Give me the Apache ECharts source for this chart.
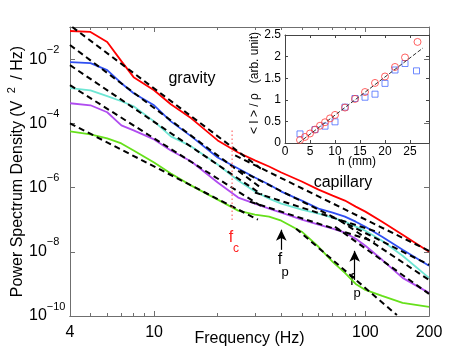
<!DOCTYPE html>
<html>
<head>
<meta charset="utf-8">
<script src="https://cdn.jsdelivr.net/npm/echarts@6/dist/echarts.min.js"></script>
<style>
  html, body { margin: 0; padding: 0; background: #fff; }
  #chart { width: 474px; height: 357px; }
</style>
</head>
<body>
<div id="chart"></div>
<script>
// frequency grid (Hz) shared by the spectra
const freq = [4, 5, 6, 7, 8, 10, 12, 15, 20, 25, 30, 35, 40, 50, 60, 70, 80, 90, 100, 120, 150, 200]

// power spectrum density (V^2/Hz), one curve per depth
const psdRed = [7.5e-2, 7.0e-2, 3.4e-2, 8.65e-3, 2.74e-3, 1.07e-3, 3.93e-4, 1.43e-4, 2.94e-5, 1.24e-5, 7.0e-6, 4.53e-6, 2.94e-6, 1.54e-6, 8.65e-7, 5.62e-7, 3.93e-7, 2.55e-7, 1.78e-7, 8.65e-8, 3.4e-8, 1.0e-8]
const psdBlue = [8.06e-3, 7.5e-3, 4.53e-3, 1.78e-3, 8.65e-4, 3.65e-4, 1.15e-4, 3.93e-5, 8.65e-6, 3.93e-6, 2.05e-6, 1.24e-6, 7.5e-7, 3.93e-7, 2.21e-7, 1.66e-7, 1.24e-7, 8.65e-8, 6.04e-8, 2.94e-8, 1.15e-8, 3.65e-9]
const psdCyan = [1.24e-3, 1.07e-3, 7.0e-4, 4.87e-4, 3.4e-4, 1.15e-4, 3.93e-5, 1.91e-5, 5.24e-6, 1.66e-6, 7.5e-7, 4.53e-7, 3.16e-7, 2.05e-7, 1.54e-7, 1.15e-7, 8.65e-8, 6.04e-8, 4.53e-8, 2.21e-8, 7.5e-9, 1.54e-9]
const psdPurple = [4.22e-4, 3.65e-4, 2.21e-4, 8.65e-5, 6.04e-5, 3.16e-5, 1.43e-5, 6.49e-6, 1.43e-6, 4.87e-7, 3.16e-7, 2.21e-7, 1.66e-7, 1.0e-7, 7.0e-8, 5.24e-8, 3.93e-8, 2.55e-8, 1.54e-8, 5.62e-9, 1.54e-9, 5.24e-10]
const psdGreen = [5.62e-5, 4.53e-5, 3.4e-5, 2.37e-5, 1.43e-5, 6.04e-6, 2.74e-6, 1.15e-6, 4.22e-7, 1.91e-7, 1.43e-7, 1.24e-7, 9.3e-8, 4.22e-8, 1.43e-8, 4.87e-9, 2.21e-9, 1.0e-9, 6.49e-10, 4.22e-10, 2.55e-10, 1.91e-10]

// power-law fits, each one a [f, P] start and end
const fitGravity = [
  [[4.1, 1.0e-1], [32, 3.9e-6]],
  [[4, 2.74e-2], [32.4, 9.3e-7]],
  [[4, 6.49e-3], [32.4, 6.04e-7]],
  [[4, 1.54e-3], [32.4, 2.55e-7]],
  [[4, 1.0e-4], [31, 1.0e-7]]
]
const fitCapillary = [
  [[24.2, 1.0e-5], [200, 1.07e-8]],
  [[25.5, 3.4e-6], [200, 3.93e-9]],
  [[30, 7.0e-7], [117, 3.93e-8]],
  [[75.8, 9.3e-8], [200, 1.33e-9]],
  [[28.4, 3.65e-7], [111, 2.05e-8]],
  [[71.8, 6.04e-8], [200, 4.87e-10]],
  [[47, 5.24e-8], [141, 1.07e-10]]
]

// crossover frequency and peak arrows
const fcFreq = 23.4
const fcSpan = [6.0e-5, 8.1e-8]
const fpArrows = [
  { f: 40, from: 1.15e-8, to: 4.87e-8 },
  { f: 89, from: 1.33e-9, to: 1.07e-8 }
]

// axis ticks
const xLabels = [4, 10, 100, 200]
const xMajor = [10, 100]
const xMinor = [5, 6, 7, 8, 9, 20, 30, 40, 50, 60, 70, 80, 90]
const yTicks = [1e-10, 1e-8, 1e-6, 1e-4, 1e-2]

// inset: mean intensity vs depth
const hRed = [3, 4, 5, 6, 7, 8, 9, 10, 12, 14, 16, 18, 20, 22, 24, 26.5]
const iRed = [0.07, 0.14, 0.22, 0.31, 0.40, 0.48, 0.57, 0.65, 0.82, 1.02, 1.18, 1.39, 1.54, 1.76, 1.98, 2.34]
const hBlue = [3, 6, 8, 10, 12, 14, 16, 18, 20, 22, 24, 26.3]
const iBlue = [0.21, 0.31, 0.39, 0.49, 0.83, 1.03, 1.06, 1.13, 1.38, 1.69, 1.84, 1.67]
const insetFit = [[2.7, 0], [27.6, 2.2]]

const FONT = '"Liberation Sans", Arial, Helvetica, sans-serif'
const axisGray = '#6f6f6f'

const chart = echarts.init(document.getElementById('chart'))

const logX = (position, ticks, len, withLabels) => ({
  type: 'log',
  logBase: 10,
  gridIndex: 0,
  position,
  min: 4,
  max: 200,
  axisLine: { show: true, lineStyle: { color: axisGray, width: 1 } },
  axisTick: { show: true, inside: true, length: len, customValues: ticks, lineStyle: { color: axisGray } },
  axisLabel: withLabels
    ? { customValues: xLabels, margin: 9, fontSize: 16, fontFamily: FONT, color: '#000' }
    : { show: false },
  splitLine: { show: false }
})

const logY = (position, withLabels) => ({
  type: 'log',
  logBase: 10,
  gridIndex: 0,
  position,
  min: 1e-10,
  max: 1e-1,
  axisLine: { show: true, lineStyle: { color: axisGray, width: 1 } },
  axisTick: { show: true, inside: true, length: 5, customValues: yTicks, lineStyle: { color: axisGray } },
  axisLabel: withLabels
    ? {
        customValues: yTicks,
        align: 'left',
        margin: 41,
        formatter: v => '{b|10}{s|\u2212' + (-Math.round(Math.log10(v))) + '}',
        rich: {
          b: { fontSize: 16, fontFamily: FONT, color: '#000', lineHeight: 30, verticalAlign: 'middle' },
          s: { fontSize: 11, fontFamily: FONT, color: '#000', lineHeight: 11, verticalAlign: 'top' }
        }
      }
    : { show: false },
  splitLine: { show: false }
})

const insetAxis = (extra) => Object.assign({
  type: 'value',
  gridIndex: 1,
  axisLine: { show: true, onZero: false, lineStyle: { color: '#444', width: 1 } },
  axisTick: { show: true, inside: true, length: 3, lineStyle: { color: '#444' } },
  splitLine: { show: false }
}, extra)

const insetLabel = { fontSize: 12, fontFamily: FONT, color: '#000' }

const curve = (data, color) => ({
  type: 'line',
  xAxisIndex: 0,
  yAxisIndex: 0,
  data: freq.map((f, i) => [f, data[i]]),
  showSymbol: false,
  lineStyle: { color, width: 1.8 },
  z: 2
})

const dashed = seg => ({
  type: 'line',
  xAxisIndex: 0,
  yAxisIndex: 0,
  data: seg,
  showSymbol: false,
  lineStyle: { color: '#000', width: 2, type: [6, 4] },
  z: 3
})

const option = {
  animation: false,
  backgroundColor: '#fff',
  grid: [
    { left: 70, top: 27, right: 45, bottom: 41, containLabel: false, outerBoundsMode: 'none' },
    { left: 285, top: 35, right: 45, bottom: 214, containLabel: false, outerBoundsMode: 'none' }
  ],
  xAxis: [
    Object.assign(logX('bottom', xMajor, 5, true), {
      name: 'Frequency (Hz)',
      nameLocation: 'middle',
      nameGap: 15,
      nameMoveOverlap: false,
      nameTextStyle: { fontSize: 16, fontFamily: FONT, color: '#000', verticalAlign: 'top' }
    }),
    logX('bottom', xMinor, 3, false),
    logX('top', xMajor, 5, false),
    logX('top', xMinor, 3, false),
    insetAxis({
      position: 'bottom', min: 0, max: 28.8, interval: 5,
      axisLabel: Object.assign({ margin: 3, showMaxLabel: false }, insetLabel),
      name: 'h (mm)', nameLocation: 'middle', nameGap: 13, nameMoveOverlap: false,
      nameTextStyle: Object.assign({ verticalAlign: 'top' }, insetLabel)
    }),
    insetAxis({ position: 'top', min: 0, max: 28.8, interval: 5, axisLabel: { show: false } })
  ],
  yAxis: [
    Object.assign(logY('left', true), {
      name: '{a|Power Spectrum Density (V }{s|2}{a| / Hz)}',
      nameLocation: 'middle',
      nameGap: 44,
      nameMoveOverlap: false,
      nameTextStyle: {
        rich: {
          a: { fontSize: 16, fontFamily: FONT, color: '#000', lineHeight: 20, verticalAlign: 'bottom' },
          s: { fontSize: 11, fontFamily: FONT, color: '#000', lineHeight: 11, verticalAlign: 'top', padding: [0, 3, 0, 3] }
        }
      }
    }),
    logY('right', false),
    insetAxis({
      position: 'left', min: 0, max: 2.5, interval: 0.5,
      axisLabel: Object.assign({ margin: 4 }, insetLabel)
    }),
    insetAxis({ position: 'right', min: 0, max: 2.5, interval: 0.5, axisLabel: { show: false } })
  ],
  series: [
    curve(psdRed, '#ff0000'),
    curve(psdBlue, '#2f4ff2'),
    curve(psdCyan, '#6ee6d4'),
    curve(psdPurple, '#b04cf0'),
    curve(psdGreen, '#66e01a'),
    ...fitGravity.map(dashed),
    ...fitCapillary.map(dashed),
    {
      type: 'line',
      xAxisIndex: 0,
      yAxisIndex: 0,
      data: fcSpan.map(p => [fcFreq, p]),
      showSymbol: false,
      lineStyle: { color: '#ff6b6b', width: 1.2, type: [1.5, 2.5] },
      z: 4
    },
    {
      type: 'line',
      xAxisIndex: 0,
      yAxisIndex: 0,
      data: [],
      markLine: {
        silent: true,
        symbol: ['none', 'arrow'],
        symbolSize: [8, 11],
        label: { show: false },
        lineStyle: { color: '#000', width: 1.2, type: 'solid' },
        data: fpArrows.map(a => [{ coord: [a.f, a.from] }, { coord: [a.f, a.to] }])
      }
    },
    {
      type: 'line',
      xAxisIndex: 4,
      yAxisIndex: 2,
      data: insetFit,
      showSymbol: false,
      lineStyle: { color: '#333', width: 1, type: [4, 2] }
    },
    {
      type: 'scatter',
      xAxisIndex: 4,
      yAxisIndex: 2,
      data: hBlue.map((h, i) => [h, iBlue[i]]),
      symbol: 'rect',
      symbolSize: 6,
      itemStyle: { color: 'rgba(0,0,0,0)', borderColor: '#4a6cff', borderWidth: 1 }
    },
    {
      type: 'scatter',
      xAxisIndex: 4,
      yAxisIndex: 2,
      data: hRed.map((h, i) => [h, iRed[i]]),
      symbol: 'circle',
      symbolSize: 7,
      itemStyle: { color: 'rgba(0,0,0,0)', borderColor: '#ff3b3b', borderWidth: 1 }
    }
  ],
  graphic: [
    { type: 'text', x: 192, y: 79, style: { text: 'gravity', font: '16px ' + FONT, fill: '#000', align: 'center', verticalAlign: 'middle' } },
    { type: 'text', x: 343, y: 183, style: { text: 'capillary', font: '16px ' + FONT, fill: '#000', align: 'center', verticalAlign: 'middle' } },
    { type: 'text', x: 231, y: 238, style: { text: 'f', font: '16px ' + FONT, fill: '#ff2020', align: 'center', verticalAlign: 'middle' } },
    { type: 'text', x: 236, y: 249, style: { text: 'c', font: '12px ' + FONT, fill: '#ff2020', align: 'center', verticalAlign: 'middle' } },
    { type: 'text', x: 280, y: 260, style: { text: 'f', font: '16px ' + FONT, fill: '#000', align: 'center', verticalAlign: 'middle' } },
    { type: 'text', x: 285, y: 272, style: { text: 'p', font: '13px ' + FONT, fill: '#000', align: 'center', verticalAlign: 'middle' } },
    { type: 'text', x: 352, y: 281, style: { text: 'f', font: '16px ' + FONT, fill: '#000', align: 'center', verticalAlign: 'middle' } },
    { type: 'text', x: 357, y: 293, style: { text: 'p', font: '13px ' + FONT, fill: '#000', align: 'center', verticalAlign: 'middle' } },
    {
      type: 'text', x: 255, y: 83, rotation: Math.PI / 2,
      style: { text: '< I > / \u03c1   (arb. unit)', font: '12px ' + FONT, fill: '#000', align: 'center', verticalAlign: 'middle' }
    }
  ]
}

chart.setOption(option)
</script>
</body>
</html>
